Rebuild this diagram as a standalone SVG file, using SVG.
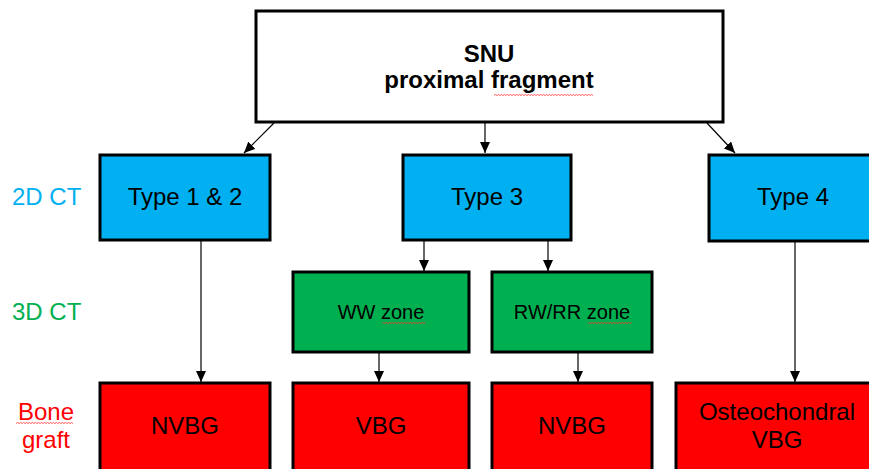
<svg xmlns="http://www.w3.org/2000/svg" width="869" height="469" viewBox="0 0 869 469">
  <style>
    text { font-family: "Liberation Sans", Arial, sans-serif; text-anchor: middle; }
    .box { stroke: #000; stroke-width: 3; }
    .root { fill: #fff; }
    .ct2 { fill: #00B0F0; }
    .ct3 { fill: #00B050; }
    .graft { fill: #FF0000; }
    .t24 { font-size: 24px; fill: #000; }
    .t20 { font-size: 20px; fill: #000; }
    .title { font-size: 24px; font-weight: bold; fill: #000; }
    .side { font-size: 24px; text-anchor: start; }
    .conn { stroke: #000; stroke-width: 1.2; fill: none; marker-end: url(#arrow); }
    .squiggle { stroke: #FF3030; stroke-width: 0.8; fill: none; }
  </style>
  <defs>
    <marker id="arrow" markerUnits="userSpaceOnUse" markerWidth="12" markerHeight="10" refX="11" refY="5" orient="auto">
      <path d="M0,0 L11,5 L0,10 z" fill="#000"/>
    </marker>
  </defs>

  <rect width="869" height="469" fill="#fff"/>

  <!-- row labels -->
  <g id="row-labels">
    <text class="side" x="12" y="205" fill="#00B0F0">2D CT</text>
    <text class="side" x="12" y="320" fill="#00B050">3D CT</text>
    <text x="46" y="420" font-size="24" fill="#FF0000">Bone</text>
    <text x="46" y="448" font-size="24" fill="#FF0000">graft</text>
    <path class="squiggle" d="M16,423.5 l1.5,-1 l1.5,1 l1.5,-1 l1.5,1 l1.5,-1 l1.5,1 l1.5,-1 l1.5,1 l1.5,-1 l1.5,1 l1.5,-1 l1.5,1 l1.5,-1 l1.5,1 l1.5,-1 l1.5,1 l1.5,-1 l1.5,1 l1.5,-1 l1.5,1 l1.5,-1 l1.5,1 l1.5,-1 l1.5,1 l1.5,-1 l1.5,1 l1.5,-1 l1.5,1 l1.5,-1 l1.5,1 l1.5,-1 l1.5,1 l1.5,-1 l1.5,1 l1.5,-1 l1.5,1 l1.5,-1 l1.5,1"/>
  </g>

  <!-- connectors -->
  <g id="connectors">
    <line class="conn" x1="274" y1="123" x2="244" y2="153"/>
    <line class="conn" x1="485" y1="123" x2="485" y2="153"/>
    <line class="conn" x1="707" y1="123" x2="735" y2="153"/>
    <line class="conn" x1="201" y1="241" x2="201" y2="382"/>
    <line class="conn" x1="424" y1="241" x2="424" y2="271"/>
    <line class="conn" x1="548" y1="241" x2="548" y2="271"/>
    <line class="conn" x1="379" y1="353" x2="379" y2="382"/>
    <line class="conn" x1="578" y1="353" x2="578" y2="382"/>
    <line class="conn" x1="795" y1="242" x2="795" y2="382"/>
  </g>

  <!-- root -->
  <g id="snu-proximal-fragment">
    <rect class="box root" x="256" y="11" width="467" height="111"/>
    <text class="title" x="489" y="62">SNU</text>
    <text class="title" x="489" y="88">proximal fragment</text>
    <path class="squiggle" d="M494,95.5 l1.5,-1 l1.5,1 l1.5,-1 l1.5,1 l1.5,-1 l1.5,1 l1.5,-1 l1.5,1 l1.5,-1 l1.5,1 l1.5,-1 l1.5,1 l1.5,-1 l1.5,1 l1.5,-1 l1.5,1 l1.5,-1 l1.5,1 l1.5,-1 l1.5,1 l1.5,-1 l1.5,1 l1.5,-1 l1.5,1 l1.5,-1 l1.5,1 l1.5,-1 l1.5,1 l1.5,-1 l1.5,1 l1.5,-1 l1.5,1 l1.5,-1 l1.5,1 l1.5,-1 l1.5,1 l1.5,-1 l1.5,1 l1.5,-1 l1.5,1 l1.5,-1 l1.5,1 l1.5,-1 l1.5,1 l1.5,-1 l1.5,1 l1.5,-1 l1.5,1 l1.5,-1 l1.5,1 l1.5,-1 l1.5,1 l1.5,-1 l1.5,1 l1.5,-1 l1.5,1 l1.5,-1 l1.5,1 l1.5,-1 l1.5,1 l1.5,-1 l1.5,1 l1.5,-1 l1.5,1 l1.5,-1 l1.5,1"/>
  </g>

  <!-- 2D CT level -->
  <g id="type-1-2">
    <rect class="box ct2" x="100" y="155" width="170" height="85"/>
    <text class="t24" x="185" y="205">Type 1 &amp; 2</text>
  </g>
  <g id="type-3">
    <rect class="box ct2" x="403" y="155" width="168" height="85"/>
    <text class="t24" x="487" y="205">Type 3</text>
  </g>
  <g id="type-4">
    <rect class="box ct2" x="709" y="155" width="168" height="86"/>
    <text class="t24" x="793" y="205">Type 4</text>
  </g>

  <!-- 3D CT level -->
  <g id="ww-zone">
    <rect class="box ct3" x="293" y="272" width="176" height="80"/>
    <text class="t20" x="381" y="319">WW zone</text>
    <path class="squiggle" d="M382,323.5 l1.5,-1 l1.5,1 l1.5,-1 l1.5,1 l1.5,-1 l1.5,1 l1.5,-1 l1.5,1 l1.5,-1 l1.5,1 l1.5,-1 l1.5,1 l1.5,-1 l1.5,1 l1.5,-1 l1.5,1 l1.5,-1 l1.5,1 l1.5,-1 l1.5,1 l1.5,-1 l1.5,1 l1.5,-1 l1.5,1 l1.5,-1 l1.5,1 l1.5,-1 l1.5,1 l1.5,-1"/>
  </g>
  <g id="rw-rr-zone">
    <rect class="box ct3" x="492" y="272" width="160" height="80"/>
    <text class="t20" x="572" y="319">RW/RR zone</text>
    <path class="squiggle" d="M588,323.5 l1.5,-1 l1.5,1 l1.5,-1 l1.5,1 l1.5,-1 l1.5,1 l1.5,-1 l1.5,1 l1.5,-1 l1.5,1 l1.5,-1 l1.5,1 l1.5,-1 l1.5,1 l1.5,-1 l1.5,1 l1.5,-1 l1.5,1 l1.5,-1 l1.5,1 l1.5,-1 l1.5,1 l1.5,-1 l1.5,1 l1.5,-1 l1.5,1 l1.5,-1 l1.5,1 l1.5,-1"/>
  </g>

  <!-- bone graft level -->
  <g id="nvbg-1">
    <rect class="box graft" x="100" y="383" width="170" height="100"/>
    <text class="t24" x="185" y="434">NVBG</text>
  </g>
  <g id="vbg">
    <rect class="box graft" x="293" y="383" width="176" height="100"/>
    <text class="t24" x="381" y="434">VBG</text>
  </g>
  <g id="nvbg-2">
    <rect class="box graft" x="492" y="383" width="160" height="100"/>
    <text class="t24" x="572" y="434">NVBG</text>
  </g>
  <g id="osteochondral-vbg">
    <rect class="box graft" x="676" y="383" width="204" height="100"/>
    <text class="t24" x="777" y="420">Osteochondral</text>
    <text class="t24" x="777" y="448">VBG</text>
  </g>
</svg>
